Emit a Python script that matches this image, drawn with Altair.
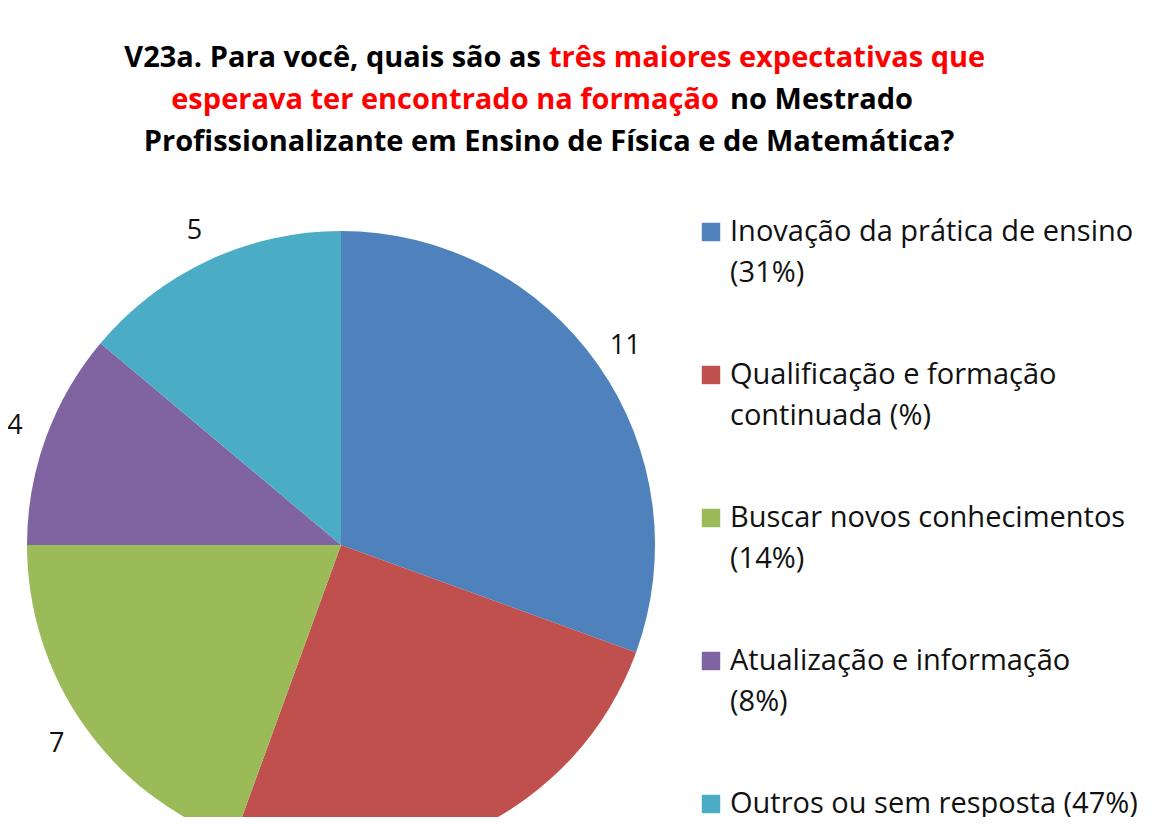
import altair as alt
import pandas as pd

# ---- data ----
categories = [
    "Inovação da prática de ensino",
    "Qualificação e formação continuada",
    "Buscar novos conhecimentos",
    "Atualização e informação",
    "Outros ou sem resposta",
]
values = [11, 9, 7, 4, 5]
legend_line1 = [
    "Inovação da prática de ensino",
    "Qualificação e formação",
    "Buscar novos conhecimentos",
    "Atualização e informação",
    "Outros ou sem resposta (47%)",
]
legend_line2 = ["(31%)", "continuada (%)", "(14%)", "(8%)", ""]
colors = ["#4F81BD", "#C0504D", "#9BBB59", "#8064A2", "#4BACC6"]

title_l1_black = "V23a. Para você, quais são as"
title_l1_red = "três maiores expectativas que"
title_l2_red = "esperava ter encontrado na formação"
title_l2_black = "no Mestrado"
title_l3 = "Profissionalizante em Ensino de Física e de Matemática?"

df = pd.DataFrame({
    "cat": categories,
    "value": values,
    "order": list(range(len(categories))),
    "l1": legend_line1,
    "l2": legend_line2,
})

FONT = "Open Sans"
color_scale = alt.Scale(domain=categories, range=colors)
CX, CY = 333, 537

base = alt.Chart(df)

pie = base.mark_arc(outerRadius=314, stroke=None).encode(
    theta=alt.Theta("value:Q", stack=True),
    order=alt.Order("order:Q"),
    color=alt.Color("cat:N", scale=color_scale, legend=None),
    x=alt.value(CX),
    y=alt.value(CY),
)

nums = base.mark_text(radius=347, font=FONT, fontSize=27, color="#111111").encode(
    theta=alt.Theta("value:Q", stack=True),
    order=alt.Order("order:Q"),
    text=alt.Text("value:Q"),
    x=alt.value(CX),
    y=alt.value(CY),
)

ypos = alt.Y("cat:N", scale=alt.Scale(domain=categories, range=[224, 796], padding=0), axis=None)

leg_sq = base.mark_square(size=340, opacity=1).encode(
    x=alt.value(703),
    y=ypos,
    color=alt.Color("cat:N", scale=color_scale, legend=None),
)
leg_t1 = base.mark_text(align="left", baseline="middle", font=FONT, fontSize=29, color="#111111").encode(
    x=alt.value(722), y=ypos, text="l1:N"
)
leg_t2 = base.mark_text(align="left", baseline="middle", font=FONT, fontSize=29, color="#111111", dy=41).encode(
    x=alt.value(722), y=ypos, text="l2:N"
)


def title_text(txt, xv, yv, align, color):
    return alt.Chart(pd.DataFrame({"t": [txt]})).mark_text(
        align=align, baseline="alphabetic", font=FONT, fontSize=29, fontWeight="bold", color=color
    ).encode(text="t:N", x=alt.value(xv), y=alt.value(yv))


titles = [
    title_text(title_l1_black, 533, 59, "right", "#000000"),
    title_text(title_l1_red, 541, 59, "left", "#FF0000"),
    title_text(title_l2_red, 711, 101, "right", "#FF0000"),
    title_text(title_l2_black, 722, 101, "left", "#000000"),
    title_text(title_l3, 541, 143, "center", "#000000"),
]

chart = alt.layer(pie, nums, leg_sq, leg_t1, leg_t2, *titles).properties(
    width=1138,
    height=809,
    autosize=alt.AutoSizeParams(type="none"),
    padding=0,
).configure_view(stroke=None)

chart.save("out.html", embed_options={"renderer": "svg", "actions": False})
